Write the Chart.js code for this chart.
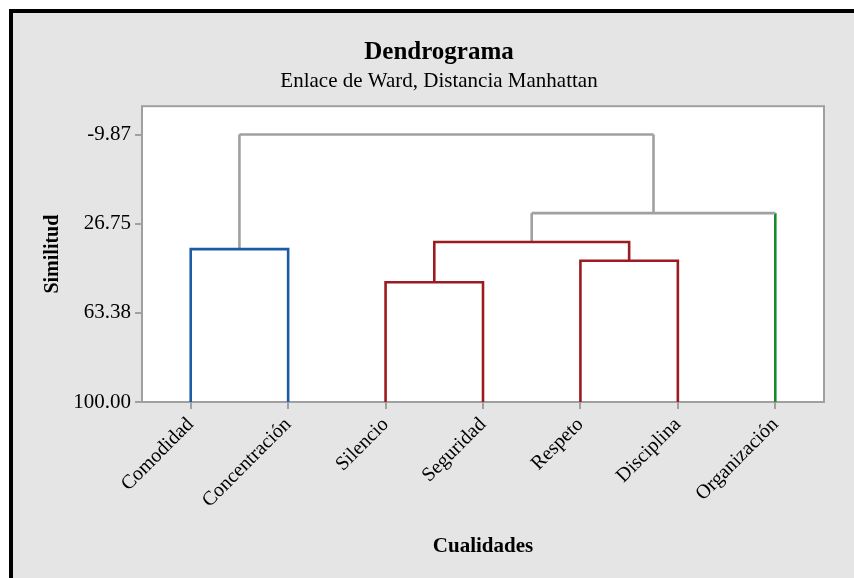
<!DOCTYPE html>
<html><head><meta charset="utf-8">
<script src="https://cdn.jsdelivr.net/npm/chart.js@4"></script>
<style>
html,body{margin:0;padding:0;width:854px;height:578px;overflow:hidden;background:#fff;}
#frame{position:absolute;left:9px;top:9px;width:845px;height:569px;box-sizing:border-box;border-left:4px solid #000;border-top:4px solid #000;background:#e5e5e5;}
#wrap{position:absolute;left:0;top:0;width:878px;height:578px;}
</style></head><body>
<div id="frame"></div>
<div id="wrap"><canvas id="c" width="878" height="578"></canvas></div>
<script>
// ---- data ----
const categories = ['Comodidad','Concentración','Silencio','Seguridad','Respeto','Disciplina','Organización'];
// merge table: node ids 0..6 are leaves, 7.. are clusters formed in order
const mergeFirst = [0, 2, 4, 8, 10, 7];
const mergeSecond = [1, 3, 5, 9, 6, 11];
const mergeSimilarity = [37.2, 50.8, 42.0, 34.3, 22.4, -9.87];
const leafGroup = [0, 0, 1, 1, 1, 1, 2];
const leafSimilarity = 100;
const yTickValues = [-9.87, 26.75, 63.38, 100];
const yTickLabels = ['-9.87', '26.75', '63.38', '100.00'];

// ---- styles ----
const groupColors = ['#1c5ba6', '#9b1b20', '#16892c'];
const linkGray = '#a0a0a0';
const FONT = 'Liberation Serif';

function seg(pts, color) {
  return {
    data: pts.map(p => ({x: p[0], y: p[1]})),
    borderColor: color, backgroundColor: color,
    borderWidth: 2.6, pointRadius: 0, showLine: true, fill: false, tension: 0,
    borderJoinStyle: 'miter', clip: false
  };
}

const n = categories.length;
const nodeX = categories.map((_, i) => i + 1);
const nodeY = categories.map(() => leafSimilarity);
const nodeGroup = leafGroup.slice();
const datasets = [];
mergeFirst.forEach((a, k) => {
  const b = mergeSecond[k], h = mergeSimilarity[k];
  const ga = nodeGroup[a], gb = nodeGroup[b];
  const g = (ga !== null && ga === gb) ? ga : null;
  const xa = nodeX[a], xb = nodeX[b];
  if (g !== null) {
    datasets.push(seg([[xa, nodeY[a]], [xa, h], [xb, h], [xb, nodeY[b]]], groupColors[g]));
  } else {
    datasets.push(seg([[xa, h], [xb, h]], linkGray));
    datasets.push(seg([[xa, nodeY[a]], [xa, h]], a < n ? groupColors[ga] : linkGray));
    datasets.push(seg([[xb, nodeY[b]], [xb, h]], b < n ? groupColors[gb] : linkGray));
  }
  nodeX.push((xa + xb) / 2); nodeY.push(h); nodeGroup.push(g);
});

const framePlugin = {
  id: 'frame',
  beforeDraw(chart) {
    const {ctx, chartArea: a} = chart;
    ctx.save();
    ctx.fillStyle = '#fff';
    ctx.fillRect(a.left, a.top, a.right - a.left, a.bottom - a.top);
    ctx.restore();
  },
  beforeDatasetsDraw(chart) {
    const {ctx, chartArea: a} = chart;
    ctx.save();
    ctx.strokeStyle = linkGray; ctx.lineWidth = 2;
    ctx.strokeRect(a.left, a.top, a.right - a.left, a.bottom - a.top);
    ctx.restore();
  }
};

new Chart(document.getElementById('c'), {
  type: 'scatter',
  data: {datasets},
  plugins: [framePlugin],
  options: {
    responsive: false, animation: false, devicePixelRatio: 1,
    layout: {padding: {left: 20, right: 20, top: 14, bottom: 10}},
    plugins: {
      legend: {display: false}, tooltip: {enabled: false},
      title: {display: true, text: 'Dendrograma', color: '#000',
        font: {family: FONT, size: 25, weight: 'bold'}, padding: {top: 24, bottom: 0}},
      subtitle: {display: true, text: 'Enlace de Ward, Distancia Manhattan', color: '#000',
        font: {family: FONT, size: 21, weight: 'normal'}, padding: {top: 1, bottom: 12}}
    },
    scales: {
      x: {
        type: 'linear', min: 0.5, max: 7.5,
        afterBuildTicks: s => { s.ticks = categories.map((_, i) => ({value: i + 1})); },
        afterFit: s => { s.height = 166; },
        ticks: {callback: v => categories[Math.round(v) - 1], autoSkip: false,
          minRotation: 45, maxRotation: 45, color: '#000', font: {family: FONT, size: 20}, padding: 4},
        grid: {drawOnChartArea: false, drawTicks: true, tickLength: 7, color: linkGray, lineWidth: 2},
        border: {display: false},
        title: {display: true, text: 'Cualidades', color: '#000',
          font: {family: FONT, size: 21, weight: 'bold'}, padding: {top: 0, bottom: 9}}
      },
      y: {
        type: 'linear', reverse: true, min: -21.5, max: 100,
        afterBuildTicks: s => { s.ticks = yTickValues.map(v => ({value: v})); },
        afterFit: s => { s.width = 122; },
        ticks: {callback: (v, i) => yTickLabels[i], color: '#000', font: {family: FONT, size: 21}, padding: 4},
        grid: {drawOnChartArea: false, drawTicks: true, tickLength: 7, color: linkGray, lineWidth: 2},
        border: {display: false},
        title: {display: true, text: 'Similitud', color: '#000',
          font: {family: FONT, size: 20, weight: 'bold'}, padding: {top: 21, bottom: 0}}
      },
      spacer: {
        type: 'linear', position: 'right', display: true,
        afterFit: s => { s.width = 34; },
        ticks: {display: false}, grid: {display: false}, border: {display: false}
      }
    }
  }
});
</script>
</body></html>
